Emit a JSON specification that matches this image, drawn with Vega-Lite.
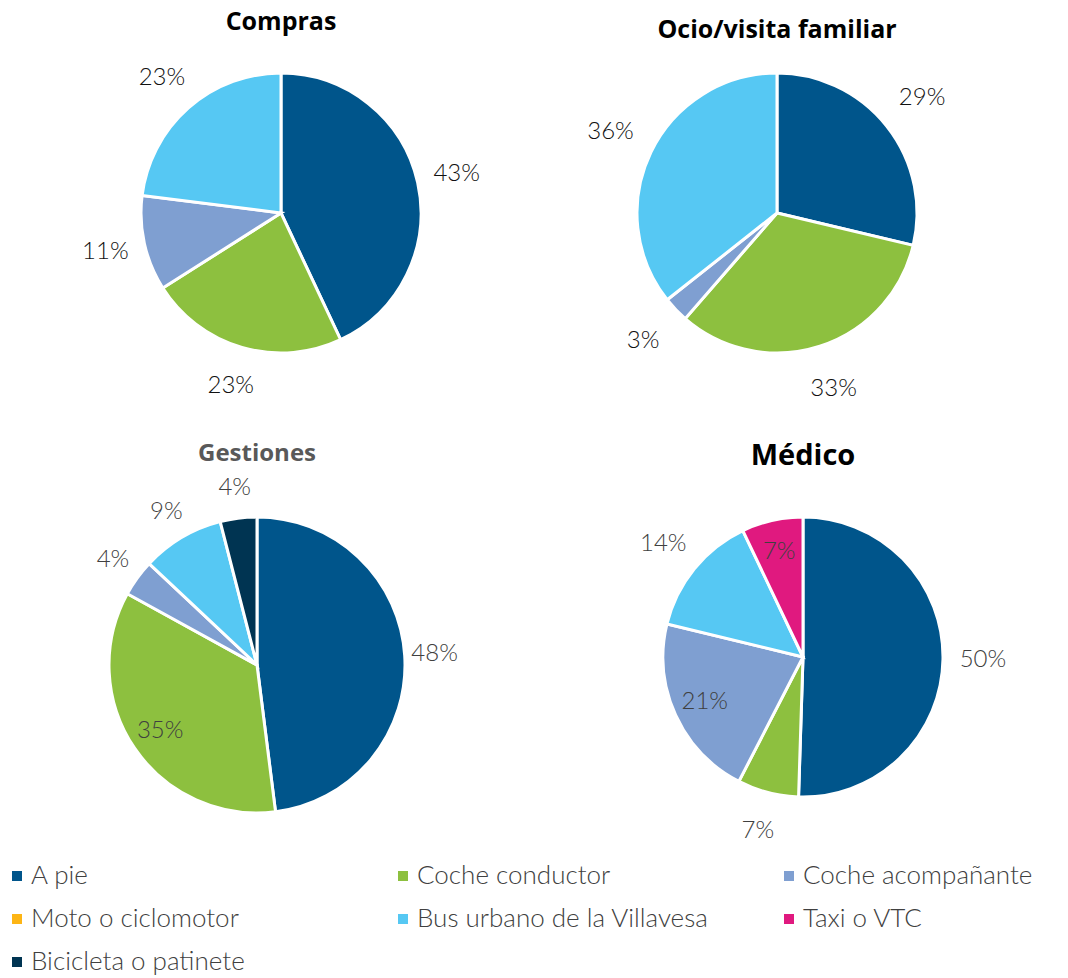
{
  "$schema": "https://vega.github.io/schema/vega-lite/v6.json",
  "padding": {"left": 0, "top": 10, "right": 0, "bottom": 0},
  "background": "white",
  "datasets": {
    "d": [
      {"panel": "Compras", "mode": "A pie", "k": 1, "v": 0.43},
      {"panel": "Compras", "mode": "Coche conductor", "k": 2, "v": 0.23},
      {"panel": "Compras", "mode": "Coche acompañante", "k": 3, "v": 0.11},
      {"panel": "Compras", "mode": "Bus urbano de la Villavesa", "k": 5, "v": 0.23},
      {"panel": "Ocio", "mode": "A pie", "k": 1, "v": 0.29},
      {"panel": "Ocio", "mode": "Coche conductor", "k": 2, "v": 0.33},
      {"panel": "Ocio", "mode": "Coche acompañante", "k": 3, "v": 0.03},
      {"panel": "Ocio", "mode": "Bus urbano de la Villavesa", "k": 5, "v": 0.36},
      {"panel": "Gestiones", "mode": "A pie", "k": 1, "v": 0.48},
      {"panel": "Gestiones", "mode": "Coche conductor", "k": 2, "v": 0.35},
      {"panel": "Gestiones", "mode": "Coche acompañante", "k": 3, "v": 0.04},
      {"panel": "Gestiones", "mode": "Bus urbano de la Villavesa", "k": 5, "v": 0.09},
      {"panel": "Gestiones", "mode": "Bicicleta o patinete", "k": 7, "v": 0.04},
      {"panel": "Medico", "mode": "A pie", "k": 1, "v": 0.50},
      {"panel": "Medico", "mode": "Coche conductor", "k": 2, "v": 0.07},
      {"panel": "Medico", "mode": "Coche acompañante", "k": 3, "v": 0.21},
      {"panel": "Medico", "mode": "Bus urbano de la Villavesa", "k": 5, "v": 0.14},
      {"panel": "Medico", "mode": "Taxi o VTC", "k": 6, "v": 0.07}
    ]
  },
  "data": {"name": "d"},
  "spacing": 40,
  "vconcat": [
    {
      "bounds": "flush",
      "spacing": 0,
      "hconcat": [
        {
          "width": 562,
          "height": 348,
          "title": {"text": "Compras", "fontSize": 25, "fontWeight": "bold", "color": "#000000", "offset": 4, "font": "Open Sans"},
          "transform": [{"filter": "datum.panel === 'Compras'"}],
          "encoding": {
            "theta": {"field": "v", "type": "quantitative", "stack": "normalize"},
            "order": {"field": "k", "type": "quantitative"}
          },
          "layer": [
            {
              "mark": {"type": "arc", "outerRadius": 140, "stroke": "white", "strokeWidth": 3},
              "encoding": {
                "color": {
                  "field": "mode", "type": "nominal",
                  "scale": {
                    "domain": ["A pie", "Coche conductor", "Coche acompañante", "Moto o ciclomotor", "Bus urbano de la Villavesa", "Taxi o VTC", "Bicicleta o patinete"],
                    "range": ["#00558B", "#8DC03F", "#7F9FD1", "#FDB515", "#56C8F3", "#E0197F", "#003452"]
                  },
                  "legend": {"title": null}
                }
              }
            },
            {
              "mark": {"type": "text", "radius": 180, "fontSize": 24, "font": "Lato", "fontWeight": 300, "color": "#111111"},
              "encoding": {"text": {"field": "v", "type": "quantitative", "format": ".0%"}, "detail": {"field": "mode"}}
            }
          ]
        },
        {
          "width": 430,
          "height": 348,
          "title": {"text": "Ocio/visita familiar", "fontSize": 25, "fontWeight": "bold", "color": "#000000", "offset": -4, "font": "Open Sans"},
          "transform": [{"filter": "datum.panel === 'Ocio'"}],
          "encoding": {
            "theta": {"field": "v", "type": "quantitative", "stack": "normalize"},
            "order": {"field": "k", "type": "quantitative"}
          },
          "layer": [
            {
              "mark": {"type": "arc", "outerRadius": 140, "stroke": "white", "strokeWidth": 3},
              "encoding": {
                "color": {
                  "field": "mode", "type": "nominal",
                  "scale": {
                    "domain": ["A pie", "Coche conductor", "Coche acompañante", "Moto o ciclomotor", "Bus urbano de la Villavesa", "Taxi o VTC", "Bicicleta o patinete"],
                    "range": ["#00558B", "#8DC03F", "#7F9FD1", "#FDB515", "#56C8F3", "#E0197F", "#003452"]
                  },
                  "legend": {"title": null}
                }
              }
            },
            {
              "mark": {"type": "text", "radius": 185, "fontSize": 24, "font": "Lato", "fontWeight": 300, "color": "#111111"},
              "encoding": {"text": {"field": "v", "type": "quantitative", "format": ".0%"}, "detail": {"field": "mode"}}
            }
          ]
        }
      ]
    },
    {
      "bounds": "flush",
      "spacing": 74,
      "hconcat": [
        {
          "width": 514,
          "height": 376,
          "title": {"text": "Gestiones", "fontSize": 24, "fontWeight": "bold", "color": "#595959", "offset": 10, "font": "Open Sans"},
          "transform": [{"filter": "datum.panel === 'Gestiones'"}],
          "encoding": {
            "theta": {"field": "v", "type": "quantitative", "stack": "normalize"},
            "order": {"field": "k", "type": "quantitative"}
          },
          "layer": [
            {
              "mark": {"type": "arc", "outerRadius": 148, "stroke": "white", "strokeWidth": 3},
              "encoding": {
                "color": {
                  "field": "mode", "type": "nominal",
                  "scale": {
                    "domain": ["A pie", "Coche conductor", "Coche acompañante", "Moto o ciclomotor", "Bus urbano de la Villavesa", "Taxi o VTC", "Bicicleta o patinete"],
                    "range": ["#00558B", "#8DC03F", "#7F9FD1", "#FDB515", "#56C8F3", "#E0197F", "#003452"]
                  },
                  "legend": {"title": null}
                }
              }
            },
            {
              "mark": {"type": "text", "radius": 178, "fontSize": 24, "font": "Lato", "fontWeight": 300, "color": "#404040"},
              "encoding": {
                "text": {"field": "v", "type": "quantitative", "format": ".0%"},
                "detail": {"field": "mode"},
                "opacity": {"condition": {"test": "datum.mode === 'Coche conductor'", "value": 0}, "value": 1}
              }
            },
            {
              "mark": {"type": "text", "radius": 117, "fontSize": 24, "font": "Lato", "fontWeight": 300, "color": "#404040"},
              "encoding": {
                "text": {"field": "v", "type": "quantitative", "format": ".0%"},
                "detail": {"field": "mode"},
                "opacity": {"condition": {"test": "datum.mode === 'Coche conductor'", "value": 1}, "value": 0}
              }
            }
          ]
        },
        {
          "width": 430,
          "height": 360,
          "title": {"text": "Médico", "fontSize": 29, "fontWeight": "bold", "color": "#000000", "offset": -2, "font": "Open Sans"},
          "transform": [{"filter": "datum.panel === 'Medico'"}],
          "encoding": {
            "theta": {"field": "v", "type": "quantitative", "stack": "normalize"},
            "order": {"field": "k", "type": "quantitative"}
          },
          "layer": [
            {
              "mark": {"type": "arc", "outerRadius": 140, "stroke": "white", "strokeWidth": 3},
              "encoding": {
                "color": {
                  "field": "mode", "type": "nominal",
                  "scale": {
                    "domain": ["A pie", "Coche conductor", "Coche acompañante", "Moto o ciclomotor", "Bus urbano de la Villavesa", "Taxi o VTC", "Bicicleta o patinete"],
                    "range": ["#00558B", "#8DC03F", "#7F9FD1", "#FDB515", "#56C8F3", "#E0197F", "#003452"]
                  },
                  "legend": {"title": null}
                }
              }
            },
            {
              "mark": {"type": "text", "radius": 180, "fontSize": 24, "font": "Lato", "fontWeight": 300, "color": "#404040"},
              "encoding": {
                "text": {"field": "v", "type": "quantitative", "format": ".0%"},
                "detail": {"field": "mode"},
                "opacity": {"condition": {"test": "datum.mode === 'Coche acompañante' || datum.mode === 'Taxi o VTC'", "value": 0}, "value": 1}
              }
            },
            {
              "mark": {"type": "text", "radius": 108, "fontSize": 24, "font": "Lato", "fontWeight": 300, "color": "#404040"},
              "encoding": {
                "text": {"field": "v", "type": "quantitative", "format": ".0%"},
                "detail": {"field": "mode"},
                "opacity": {"condition": {"test": "datum.mode === 'Coche acompañante' || datum.mode === 'Taxi o VTC'", "value": 1}, "value": 0}
              }
            }
          ]
        }
      ]
    }
  ],
  "config": {
    "font": "Lato",
    "view": {"stroke": null},
    "legend": {
      "orient": "none",
      "direction": "horizontal",
      "legendX": 4,
      "legendY": 824,
      "columns": 3,
      "gridAlign": "all",
      "columnPadding": 67,
      "rowPadding": 17,
      "symbolType": "square",
      "symbolSize": 100,
      "symbolStrokeWidth": 0,
      "labelFontSize": 26,
      "labelFont": "Lato",
      "labelFontWeight": 300,
      "labelColor": "#404040",
      "labelLimit": 500,
      "labelOffset": 1
    }
  }
}
